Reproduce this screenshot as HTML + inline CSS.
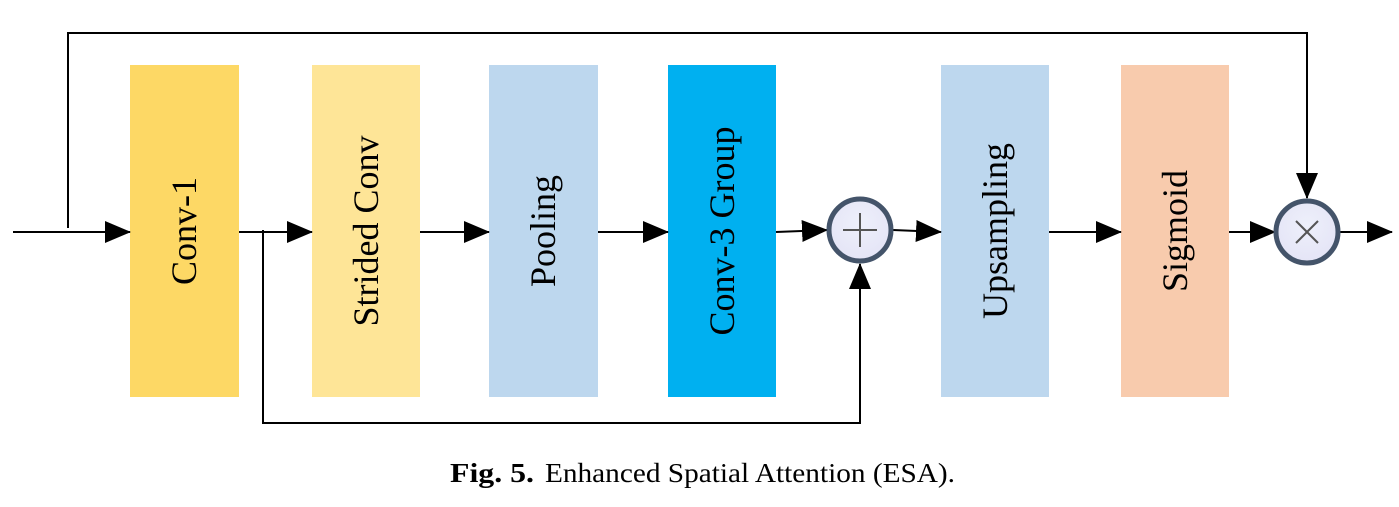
<!DOCTYPE html>
<html><head><meta charset="utf-8"><style>
html,body{margin:0;padding:0;background:#fff;width:1399px;height:507px;overflow:hidden}
</style></head><body>
<svg width="1399" height="507" viewBox="0 0 1399 507" xmlns="http://www.w3.org/2000/svg">
<defs>
<marker id="a" markerWidth="26" markerHeight="22" refX="25" refY="11" orient="auto" markerUnits="userSpaceOnUse">
<path d="M0,0 L26,11 L0,22 Z" fill="#000"/></marker>
<radialGradient id="g" cx="50%" cy="40%" r="60%"><stop offset="0" stop-color="#eef0fb"/><stop offset="1" stop-color="#e4e4f6"/></radialGradient>
</defs>
<rect x="130" y="65" width="109" height="332" fill="#fdd865"/>
<rect x="312" y="65" width="108" height="332" fill="#fee597"/>
<rect x="489" y="65" width="109" height="332" fill="#bdd7ee"/>
<rect x="668" y="65" width="108" height="332" fill="#00b0f0"/>
<rect x="941" y="65" width="108" height="332" fill="#bdd7ee"/>
<rect x="1121" y="65" width="108" height="332" fill="#f8cbad"/>
<g font-family="Liberation Serif, serif" font-size="36" fill="#000" text-anchor="middle">
<text transform="translate(196,231) rotate(-90)">Conv-1</text>
<text transform="translate(378,231) rotate(-90)">Strided Conv</text>
<text transform="translate(555,231) rotate(-90)">Pooling</text>
<text transform="translate(734,231) rotate(-90)">Conv-3 Group</text>
<text transform="translate(1007,231) rotate(-90)">Upsampling</text>
<text transform="translate(1187,231) rotate(-90)">Sigmoid</text>
</g>
<g stroke="#000" stroke-width="2" fill="none">
<line x1="13" y1="232" x2="130" y2="232" marker-end="url(#a)"/>
<line x1="239" y1="232" x2="312" y2="232" marker-end="url(#a)"/>
<line x1="420" y1="232" x2="489" y2="232" marker-end="url(#a)"/>
<line x1="598" y1="232" x2="668" y2="232" marker-end="url(#a)"/>
<line x1="776" y1="232" x2="827" y2="230" marker-end="url(#a)"/>
<line x1="893" y1="230" x2="941" y2="232" marker-end="url(#a)"/>
<line x1="1049" y1="232" x2="1121" y2="232" marker-end="url(#a)"/>
<line x1="1229" y1="232" x2="1275" y2="232" marker-end="url(#a)"/>
<line x1="1340" y1="232" x2="1392" y2="232" marker-end="url(#a)"/>
<polyline points="68,228 68,33 1307,33 1307,198" marker-end="url(#a)"/>
<polyline points="263,230 263,423 860,423 860,264" marker-end="url(#a)"/>
</g>
<circle cx="860" cy="230" r="31" fill="url(#g)" stroke="#44546a" stroke-width="5"/>
<g stroke="#555" stroke-width="2"><line x1="843" y1="230" x2="877" y2="230"/><line x1="860" y1="213" x2="860" y2="247"/></g>
<circle cx="1307" cy="232" r="31" fill="url(#g)" stroke="#44546a" stroke-width="5"/>
<g stroke="#555" stroke-width="2"><line x1="1296" y1="221" x2="1318" y2="243"/><line x1="1318" y1="221" x2="1296" y2="243"/></g>
<text x="450" y="482" font-family="Liberation Serif, serif" font-size="27" fill="#000" font-weight="bold" textLength="84" lengthAdjust="spacingAndGlyphs">Fig. 5.</text>
<text x="545" y="482" font-family="Liberation Serif, serif" font-size="27" fill="#000" textLength="410" lengthAdjust="spacingAndGlyphs">Enhanced Spatial Attention (ESA).</text>
</svg>
</body></html>
